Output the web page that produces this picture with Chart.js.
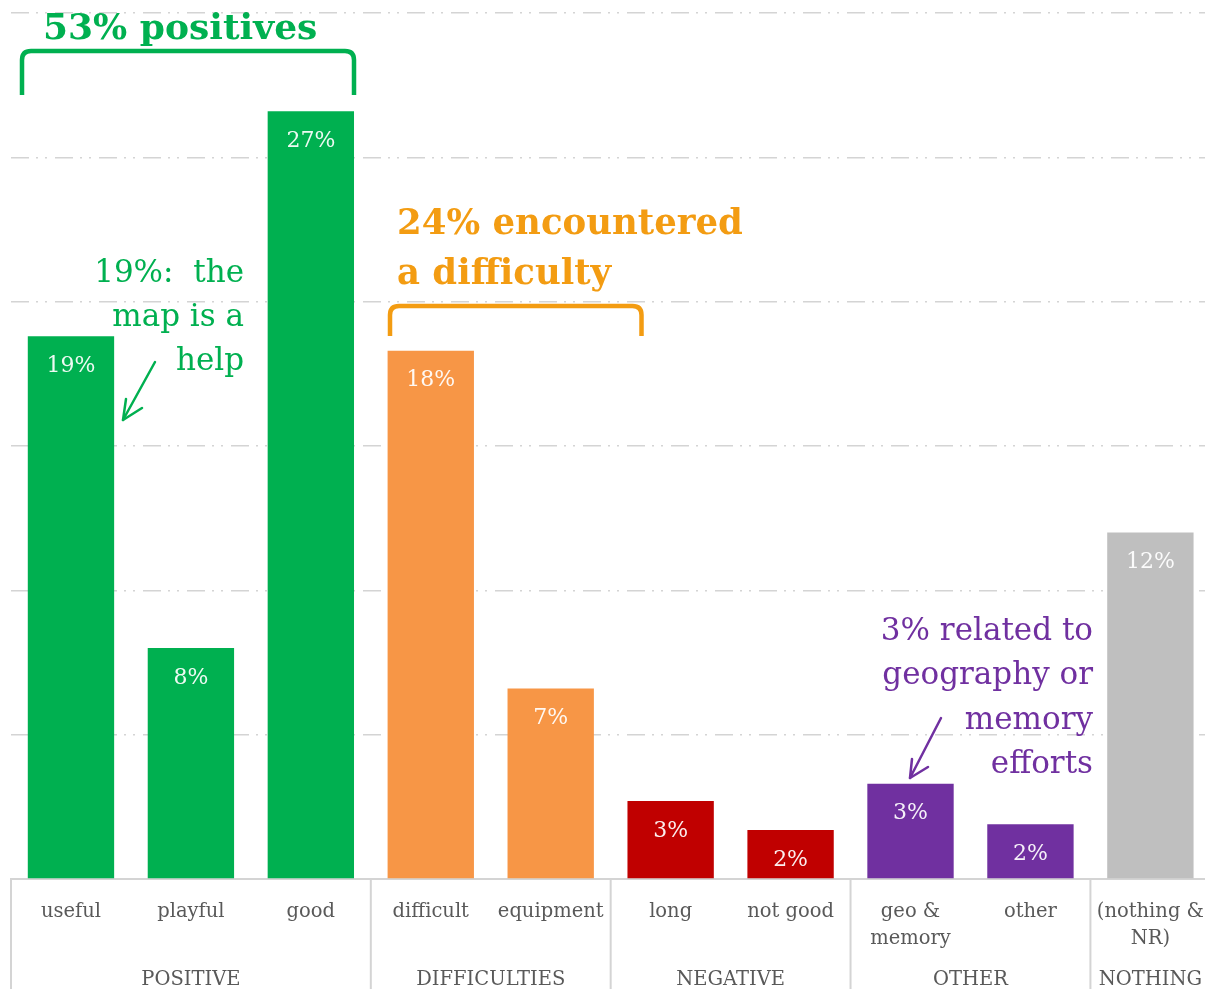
<!DOCTYPE html>
<html><head><meta charset="utf-8">
<script src="https://cdn.jsdelivr.net/npm/chart.js@4"></script>
<style>html,body{margin:0;padding:0;overflow:hidden;background:#fff}#wrap{width:1224px;height:989px;position:relative}</style>
</head><body><div id="wrap"><canvas id="c" width="1224" height="989"></canvas></div>
<script>
// ---- data ----
const categories = [["useful"],["playful"],["good"],["difficult"],["equipment"],["long"],["not good"],["geo &","memory"],["other"],["(nothing &","NR)"]];
const values = [18.8, 8.0, 26.6, 18.3, 6.6, 2.7, 1.7, 3.3, 1.9, 12.0];
const groupNames = ["POSITIVE","DIFFICULTIES","NEGATIVE","OTHER","NOTHING"];
const groupSizes = [3, 2, 2, 2, 1];
const yTickStep = 5;
const yMax = 30;

// ---- styles ----
const groupColors = ["#00B050","#F79646","#C00000","#7030A0","#BFBFBF"];
const barColors = [];
groupSizes.forEach((n, g) => { for (let i = 0; i < n; i++) barColors.push(groupColors[g]); });
const FONT = "'DejaVu Serif', serif";
const TEXT = "#595959";
const GRID = "#d4d4d4";

const overlay = {
  id: 'overlay',
  afterDatasetsDraw(chart) {
    const ctx = chart.ctx;
    const meta = chart.getDatasetMeta(0);
    ctx.save();
    ctx.font = "22px " + FONT;
    ctx.fillStyle = "rgba(255,255,255,0.93)";
    ctx.textAlign = "center";
    ctx.textBaseline = "middle";
    meta.data.forEach((bar, i) => {
      ctx.fillText(Math.round(values[i]) + "%", bar.x, bar.y + 30);
    });
    ctx.restore();
  },
  afterDraw(chart) {
    const ctx = chart.ctx;
    const xs = chart.scales.x;
    const area = chart.chartArea;
    const half = (xs.getPixelForValue(1) - xs.getPixelForValue(0)) / 2;
    ctx.save();
    // group separators + group labels
    let start = 0;
    groupSizes.forEach((n, g) => {
      const left = xs.getPixelForValue(start) - half;
      const right = xs.getPixelForValue(start + n - 1) + half;
      ctx.strokeStyle = GRID; ctx.lineWidth = 2;
      ctx.beginPath(); ctx.moveTo(left, area.bottom); ctx.lineTo(left, chart.height); ctx.stroke();
      ctx.font = "19.5px " + FONT; ctx.fillStyle = TEXT; ctx.textAlign = "center"; ctx.textBaseline = "alphabetic";
      ctx.fillText(groupNames[g], (left + right) / 2, 985);
      start += n;
    });

    // annotations
    function bracket(x1, x2, yTop, yBot, color) {
      const r = 9;
      ctx.strokeStyle = color; ctx.lineWidth = 4.5; ctx.lineJoin = "round"; ctx.lineCap = "butt";
      ctx.beginPath();
      ctx.moveTo(x1, yBot); ctx.lineTo(x1, yTop + r);
      ctx.quadraticCurveTo(x1, yTop, x1 + r, yTop);
      ctx.lineTo(x2 - r, yTop);
      ctx.quadraticCurveTo(x2, yTop, x2, yTop + r);
      ctx.lineTo(x2, yBot);
      ctx.stroke();
    }
    function arrow(x0, y0, x1, y1, h1, h2, color) {
      ctx.strokeStyle = color; ctx.lineWidth = 2.5; ctx.lineCap = "round"; ctx.lineJoin = "round";
      ctx.beginPath(); ctx.moveTo(x0, y0); ctx.lineTo(x1, y1); ctx.stroke();
      ctx.beginPath(); ctx.moveTo(h1[0], h1[1]); ctx.lineTo(x1, y1); ctx.lineTo(h2[0], h2[1]); ctx.stroke();
    }
    function lines(arr, x, y0, dy, align, font, color) {
      ctx.font = font; ctx.fillStyle = color; ctx.textAlign = align; ctx.textBaseline = "alphabetic";
      arr.forEach((t, i) => ctx.fillText(t, x, y0 + i * dy));
    }
    const green = "#00B050", orange = "#F39C12", purple = "#7030A0";
    bracket(22, 354, 51, 95, green);
    lines(["53% positives"], 43, 39, 0, "left", "bold 36px " + FONT, green);
    bracket(390, 641.5, 306, 336, orange);
    lines(["24% encountered", "a difficulty"], 397, 234, 50, "left", "bold 35.5px " + FONT, orange);
    lines(["19%:  the", "map is a", "help"], 244, 282, 44, "right", "31px " + FONT, green);
    arrow(155, 362, 123, 420, [126, 399], [142, 408], green);
    lines(["3% related to", "geography or", "memory", "efforts"], 1093, 640, 44.3, "right", "31px " + FONT, purple);
    arrow(941, 718, 910, 778, [912, 759], [928, 767], purple);
    ctx.restore();
  }
};

new Chart(document.getElementById('c'), {
  type: 'bar',
  data: {
    labels: categories,
    datasets: [{ data: values, backgroundColor: barColors, borderWidth: 0, barPercentage: 0.72, categoryPercentage: 1.0 }]
  },
  options: {
    responsive: false,
    animation: false,
    devicePixelRatio: 1,
    layout: { padding: { left: 11, right: 1, top: 13, bottom: 0 } },
    plugins: { legend: { display: false }, tooltip: { enabled: false } },
    scales: {
      x: {
        offset: true,
        grid: { display: true, drawOnChartArea: false, drawTicks: false, color: 'rgba(0,0,0,0)' },
        border: { display: true, color: GRID, width: 2 },
        ticks: { color: TEXT, font: { family: FONT, size: 19.5, lineHeight: 1.35 }, padding: 20, maxRotation: 0, autoSkip: false },
        afterFit: s => { s.height = 110; }
      },
      y: {
        min: 0, max: yMax,
        ticks: { display: false, stepSize: yTickStep },
        grid: { drawTicks: false, lineWidth: 1.5, color: c => c.tick && c.tick.value === 0 ? 'rgba(0,0,0,0)' : GRID },
        border: { display: false, dash: [18, 7, 2, 7, 2, 8] },
        afterFit: s => { s.width = 0; }
      }
    }
  },
  plugins: [overlay]
});
</script>
</body></html>
